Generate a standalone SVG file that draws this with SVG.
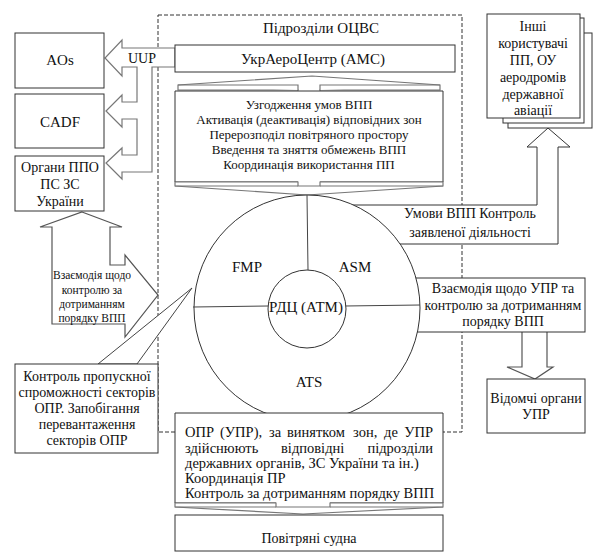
<svg xmlns="http://www.w3.org/2000/svg" width="593" height="552" viewBox="0 0 593 552">
<style>
text{fill:#111;font-family:"Liberation Serif","Times New Roman",serif}
.t15{font-size:15px}
.t14{font-size:14px}
.t145{font-size:14.5px}
.t13{font-size:13px}
.t11{font-size:11.5px}
.m{text-anchor:middle}
.e{text-anchor:end}
.box{fill:#fff;stroke:#333;stroke-width:1}
.arr{fill:#fff;stroke:#777;stroke-width:1.2}
.dash{fill:none;stroke:#333;stroke-width:1;stroke-dasharray:4,2}
.ln{fill:none;stroke:#444;stroke-width:1}
</style>
<rect width="593" height="552" fill="#fff"/>
<g id="ocvs-frame">
<rect class="dash" x="158" y="15" width="304" height="417"/>
<text class="t15 m" x="321" y="33">Підрозділи ОЦВС</text>
</g>
<g id="connectors">
<path id="uup-arrow" class="arr" d="M175,48 H122 V40 L105,58 L122,76 V67 H137 V102 H122 V95 L106,111 L122,127 V119 H137 V155 H122 V148 L106,163 L122,179 V172 H152 V67 H175 Z"/>
<text class="t14 m" x="142" y="63">UUP</text>
<path id="vzaiemodia-arrow" class="arr" style="stroke:#555" d="M82,212 L122,227 H110 V265 H125 V255 L158,295 L125,337 V324 H52 V227 H40 Z"/>
<g class="t11 m">
<text x="92" y="279">Взаємодія щодо</text>
<text x="92" y="294">контролю за</text>
<text x="92" y="308">дотриманням</text>
<text x="92" y="322">порядку ВПП</text>
</g>
<path id="inshi-arrow-box" class="box" d="M345,205 H537 V147 H527 L548,128 L570,147 H558 V244 H345 Z"/>
<path id="vidomchi-arrow" class="arr" style="stroke:#555" d="M522,332 V367 H507 L535,379 L553,367 H547 V332"/>
</g>
<g id="aos">
<rect class="box" x="15" y="33" width="89" height="55"/>
<text class="t15 m" x="60" y="65">AOs</text>
</g>
<g id="cadf">
<rect class="box" x="15" y="94" width="89" height="54"/>
<text class="t15 m" x="60" y="127">CADF</text>
</g>
<g id="organy-ppo">
<rect class="box" x="15" y="156" width="89" height="55"/>
<g class="t14 m">
<text x="60" y="172">Органи ППО</text>
<text x="60" y="189">ПС ЗС</text>
<text x="60" y="206">України</text>
</g>
</g>
<g id="ukraerocentr">
<rect class="box" x="175" y="45" width="280" height="27"/>
<text class="t15 m" x="313" y="64">УкрАероЦентр (АМС)</text>
</g>
<g id="funnel-top">
<path class="arr" d="M178,90 V85 L312,76 L440,85 V90 H320 V92 H298 V90 Z"/>
<path class="arr" fill="none" d="M178,85 H298 V90 M320,90 V85 H440"/>
</g>
<g id="uzgodzhennia">
<path class="box" d="M298,182 H175 V91 H443 V182 H320"/>
<path class="arr" d="M175,182 V186 L307,195 L443,186 V182 H320 V186 H298 V182 Z"/>
<path class="arr" fill="none" d="M175,186 H298 M320,186 H443"/>
<g class="t13 m">
<text x="309" y="109">Узгодження умов ВПП</text>
<text x="309" y="124">Активація (деактивація) відповідних зон</text>
<text x="309" y="139">Перерозподіл повітряного простору</text>
<text x="309" y="154">Введення та зняття обмежень ВПП</text>
<text x="309" y="169">Координація використання ПП</text>
</g>
</g>
<g id="inshi-korystuvachi">
<rect class="box" x="508" y="33" width="84" height="95"/>
<rect class="box" x="503" y="18" width="81" height="105"/>
<rect class="box" x="487" y="14" width="93" height="104"/>
<g class="t14 m">
<text x="533" y="31">Інші</text>
<text x="533" y="48">користувачі</text>
<text x="533" y="65">ПП, ОУ</text>
<text x="533" y="82">аеродромів</text>
<text x="533" y="99">державної</text>
<text x="533" y="115">авіації</text>
</g>
</g>
<g id="umovy-vpp">
<g class="t14 m">
<text x="470" y="218">Умови ВПП Контроль</text>
<text x="470" y="237">заявленої діяльності</text>
</g>
</g>
<g id="vzaiemodia-upr">
<rect class="box" x="400" y="278" width="185" height="54"/>
<g class="t14 m">
<text x="503" y="293">Взаємодія щодо УПР та</text>
<text x="503" y="310">контролю за дотриманням</text>
<text x="503" y="326">порядку ВПП</text>
</g>
</g>
<g id="vidomchi-organy">
<rect class="box" x="487" y="379" width="98" height="54"/>
<g class="t14 m">
<text x="536" y="403">Відомчі органи</text>
<text x="536" y="419">УПР</text>
</g>
</g>
<g id="rdc-atm">
<circle class="box" cx="307" cy="308" r="113"/>
<path class="ln" d="M307,195 L308,270 M193,307 L268,306 M345,306 L420,305"/>
<circle class="box" cx="307" cy="309" r="39"/>
<g class="t15 m">
<text x="247" y="272">FMP</text>
<text x="355" y="272">ASM</text>
<text x="306" y="312">РДЦ (АТМ)</text>
<text x="309" y="387">ATS</text>
</g>
</g>
<g id="kontrol-propusknoi">
<polygon class="box" points="98,364 192,288 137,364" style="stroke:#444"/>
<rect class="box" x="15" y="364" width="143" height="89"/>
<g class="t14 m">
<text x="87" y="381">Контроль пропускної</text>
<text x="87" y="397">спроможності секторів</text>
<text x="87" y="413">ОПР. Запобігання</text>
<text x="87" y="429">перевантаження</text>
<text x="87" y="445">секторів ОПР</text>
</g>
</g>
<g id="opr-upr">
<path class="box" d="M276,503 H175 V413 H443 V503 H330"/>
<path class="arr" d="M175,503 V507 L303,514 L443,507 V503 H330 V507 H276 V503 Z"/>
<path class="arr" fill="none" d="M175,507 H276 M330,507 H443"/>
<g class="t145">
<text x="185" y="437">ОПР</text>
<text x="220" y="437">(УПР),</text>
<text x="269" y="437">за</text>
<text x="287" y="437">винятком</text>
<text x="353" y="437">зон,</text>
<text x="384" y="437">де</text>
<text class="e" x="433" y="437">УПР</text>
<text x="185" y="453">здійснюють</text>
<text x="281" y="453">відповідні</text>
<text class="e" x="433" y="453">підрозділи</text>
<text x="185" y="468">державних органів, ЗС України та ін.)</text>
<text x="185" y="483">Координація ПР</text>
<text x="185" y="498">Контроль за дотриманням порядку ВПП</text>
</g>
</g>
<g id="povitriani-sudna">
<rect class="box" x="175" y="515" width="268" height="36"/>
<text class="t14 m" x="309" y="543">Повітряні судна</text>
</g>
</svg>
